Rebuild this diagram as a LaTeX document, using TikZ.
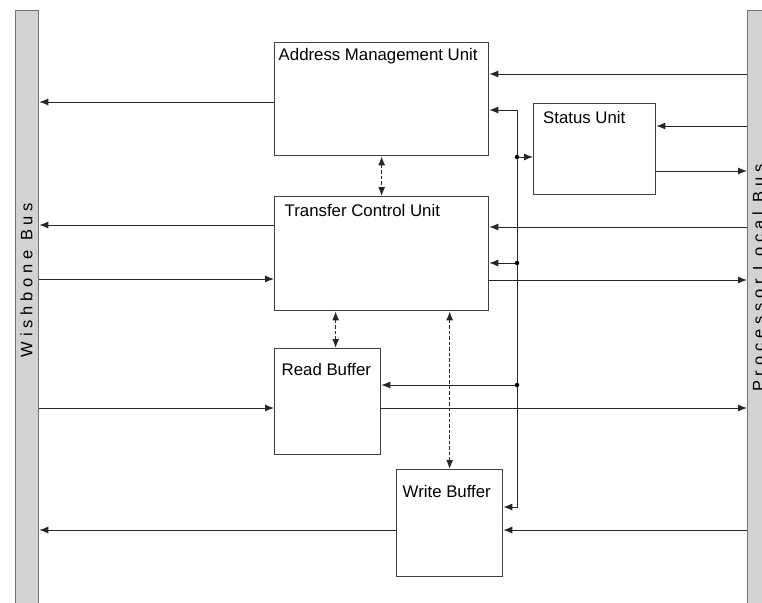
\documentclass[tikz,border=0pt]{standalone}
\usepackage{fontspec}
\setmainfont{Liberation Sans}
\newfontfamily\busfont[LetterSpace=29]{Liberation Sans}
\usetikzlibrary{arrows.meta,calc}

\tikzset{
  block/.style={draw=black!75, line width=1.3pt, fill=white, anchor=north west, inner sep=0pt},
  busbar/.style={draw=black!55, line width=1.3pt, fill=gray!35, anchor=north west,
    minimum width=23pt, minimum height=620pt, inner sep=0pt},
  title/.style={anchor=base west, inner sep=0pt, font=\fontsize{16.8}{19}\selectfont},
  buslabel/.style={rotate=90, inner sep=0pt, font=\fontsize{16.5}{19}\selectfont\busfont},
  sig/.style={draw=black!85, line width=1pt, -{Latex[length=9pt,width=7pt]}},
  link/.style={sig, line width=1.2pt, {Latex[length=9pt,width=7pt]}-{Latex[length=9pt,width=7pt]},
    dash pattern=on 3.5pt off 2pt},
  tap/.style={circle, fill=black, inner sep=0pt, minimum size=4.5pt},
}

\begin{document}
\begin{tikzpicture}[x=1pt,y=-1pt]
\useasboundingbox (0,0) rectangle (762,602);
\clip (0,0) rectangle (762,602);
% the two buses
\node[busbar] (wbus) at (15,10) {};
\node[busbar] (plbus) at (747,10) {};
\node[buslabel] (wbustext) at (26.5,280) {Wishbone Bus};
\node[buslabel] (plbustext) at (758.5,278) {Processor Local Bus};
% units
\node[block, minimum width=214pt, minimum height=113pt] (amu) at (274,42) {};
\node[block, minimum width=122pt, minimum height=91pt] (stat) at (533,103) {};
\node[block, minimum width=214pt, minimum height=114pt] (tcu) at (274,196) {};
\node[block, minimum width=106pt, minimum height=106pt] (rbuf) at (274,348) {};
\node[block, minimum width=106pt, minimum height=107pt] (wbuf) at (396,469) {};
% unit titles
\node[title] (amutext) at ([shift={(4.5pt,-18pt)}]amu.north west) {Address Management Unit};
\node[title] (stattext) at ([shift={(10pt,-20pt)}]stat.north west) {Status Unit};
\node[title] (tcutext) at ([shift={(10.5pt,-20pt)}]tcu.north west) {Transfer Control Unit};
\node[title] (rbuftext) at ([shift={(7.5pt,-27pt)}]rbuf.north west) {Read Buffer};
\node[title] (wbuftext) at ([shift={(6.5pt,-28pt)}]wbuf.north west) {Write Buffer};
% ports on the units
\path ([yshift=-60pt]amu.north west) coordinate (amuw)
      ([yshift=-32pt]amu.north east) coordinate (amue1)
      ([yshift=-68pt]amu.north east) coordinate (amue2)
      ([yshift=-23pt]stat.north east) coordinate (state1)
      ([yshift=-68pt]stat.north east) coordinate (state2)
      ([yshift=-29pt]tcu.north west) coordinate (tcuw1)
      ([yshift=-83pt]tcu.north west) coordinate (tcuw2)
      ([yshift=-31pt]tcu.north east) coordinate (tcue1)
      ([yshift=-84pt]tcu.north east) coordinate (tcue2)
      ([yshift=-60pt]rbuf.north west) coordinate (rbufw)
      ([yshift=-60pt]rbuf.north east) coordinate (rbufe)
      ([xshift=8pt]rbuf.north) coordinate (rbufn)
      ([yshift=-38pt]wbuf.north east) coordinate (wbufe1)
      ([yshift=-61pt]wbuf.north east) coordinate (wbufe2)
      ([yshift=-61pt]wbuf.north west) coordinate (wbufw);
% Wishbone side
\draw[sig] (amuw) -- (amuw -| wbus.east);
\draw[sig] (tcuw1) -- (tcuw1 -| wbus.east);
\draw[sig] (tcuw2 -| wbus.east) -- (tcuw2);
\draw[sig] (rbufw -| wbus.east) -- (rbufw);
\draw[sig] (wbufw) -- (wbufw -| wbus.east);
% PLB side
\draw[sig] (amue1 -| plbus.west) -- (amue1);
\draw[sig] (state1 -| plbus.west) -- (state1);
\draw[sig] (state2) -- (state2 -| plbus.west);
\draw[sig] (tcue1 -| plbus.west) -- (tcue1);
\draw[sig] (tcue2) -- (tcue2 -| plbus.west);
\draw[sig] (rbufe) -- (rbufe -| plbus.west);
\draw[sig] (wbufe2 -| plbus.west) -- (wbufe2);
% shared line with taps
\coordinate (trunktop) at (517,110);
\coordinate (trunkbot) at (517,507);
\draw[sig, {Latex[length=9pt,width=7pt]}-{Latex[length=9pt,width=7pt]}]
  (trunktop -| amu.east) -- (trunktop) -- (trunkbot) -- (trunkbot -| wbufe1);
\node[tap] (tap1) at (517,157) {};
\node[tap] (tap2) at (517,263) {};
\node[tap] (tap3) at (517,385) {};
\draw[sig] (tap1) -- (tap1 -| stat.west);
\draw[sig] (tap2) -- (tap2 -| tcu.east);
\draw[sig] (tap3) -- (tap3 -| rbuf.east);
% dashed links between units
\draw[link] (amu.south) -- (tcu.north);
\draw[link] (rbufn |- tcu.south) -- (rbufn);
\draw[link] (wbuf.north |- tcu.south) -- (wbuf.north);
\end{tikzpicture}
\end{document}
